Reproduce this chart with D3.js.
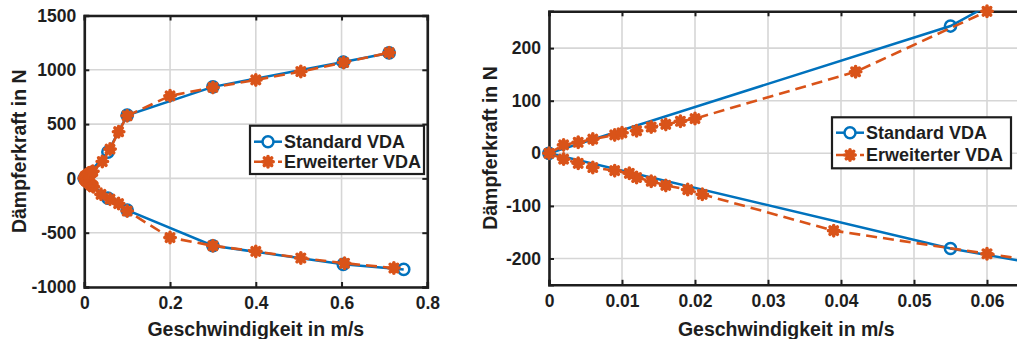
<!DOCTYPE html>
<html>
<head>
<meta charset="utf-8">
<script src="https://cdn.jsdelivr.net/npm/d3@7"></script>
<style>
  html, body { margin: 0; padding: 0; background: #fff; }
  svg { display: block; font-family: "Liberation Sans", Arial, sans-serif; font-weight: bold; }
</style>
</head>
<body>
<svg id="fig" width="1017" height="339"></svg>
<script>
// Standard VDA characteristic (speed in m/s, force in N)
const stdSpeedUp   = [0, 0.055, 0.1, 0.3, 0.604, 0.711];
const stdForceUp   = [0, 242, 582, 843, 1072, 1155];
const stdSpeedDown = [0, 0.055, 0.1, 0.3, 0.604, 0.745];
const stdForceDown = [0, -181, -292, -620, -791, -838];

// Extended VDA characteristic
const extSpeedUp   = [0, 0.002, 0.004, 0.006, 0.009, 0.01, 0.012, 0.014, 0.016, 0.018, 0.02, 0.042, 0.06, 0.08, 0.1, 0.2, 0.3, 0.4, 0.505, 0.605, 0.711];
const extForceUp   = [0, 16, 21, 27, 35, 39, 43, 50, 55, 61, 66, 155, 270, 430, 577, 760, 838, 907, 984, 1067, 1158];
const extSpeedDown = [0, 0.002, 0.004, 0.006, 0.009, 0.011, 0.012, 0.014, 0.016, 0.019, 0.021, 0.039, 0.06, 0.08, 0.1, 0.2, 0.3, 0.4, 0.505, 0.607, 0.722];
const extForceDown = [0, -11, -19, -27, -33, -38, -46, -53, -61, -69, -78, -147, -191, -232, -300, -545, -620, -672, -733, -781, -825];

const seriesNames = ["Standard VDA", "Erweiterter VDA"];
const xTitle = "Geschwindigkeit in m/s";
const yTitle = "Dämpferkraft in N";

const leftXTicks  = [0, 0.2, 0.4, 0.6, 0.8];
const leftYTicks  = [-1000, -500, 0, 500, 1000, 1500];
const rightXTicks = [0, 0.01, 0.02, 0.03, 0.04, 0.05, 0.06];
const rightYTicks = [-200, -100, 0, 100, 200];

const BLUE = "#0072BD", ORANGE = "#D95319", INK = "#1e1e1e";

function branchPoints(sDown, fDown, sUp, fUp) {
  const down = sDown.map((s, i) => [s, fDown[i]]).reverse();
  const up = sUp.map((s, i) => [s, fUp[i]]).slice(1);
  return down.concat(up);
}
const stdPts = branchPoints(stdSpeedDown, stdForceDown, stdSpeedUp, stdForceUp);
const extPts = branchPoints(extSpeedDown, extForceDown, extSpeedUp, extForceUp);

const svg = d3.select("#fig");

function starPath(r) {
  const d = r * Math.SQRT1_2;
  return `M${-r},0L${r},0M0,${-r}L0,${r}M${-d},${-d}L${d},${d}M${-d},${d}L${d},${-d}`;
}

function drawPanel(cfg, id) {
  const x = d3.scaleLinear().domain(cfg.xd).range(cfg.xr);
  const y = d3.scaleLinear().domain(cfg.yd).range(cfg.yr);
  const [x0, x1] = cfg.xr, [y0, y1] = cfg.yr; // y0 bottom, y1 top
  const g = svg.append("g");
  const fmt = v => String(v);

  // grid
  g.append("g").selectAll("line").data(cfg.xt).join("line")
    .attr("x1", d => x(d)).attr("x2", d => x(d)).attr("y1", y0).attr("y2", y1)
    .attr("stroke", "#d6d6d6").attr("stroke-width", 1.6);
  g.append("g").selectAll("line").data(cfg.yt).join("line")
    .attr("y1", d => y(d)).attr("y2", d => y(d)).attr("x1", x0).attr("x2", x1)
    .attr("stroke", "#d6d6d6").attr("stroke-width", 1.6);

  // axes with inward ticks on all sides
  const tl = 5;
  const bottom = d3.axisBottom(x).tickValues(cfg.xt).tickSize(-tl).tickPadding(10).tickFormat(fmt);
  const top = d3.axisTop(x).tickValues(cfg.xt).tickSize(-tl).tickFormat("");
  const left = d3.axisLeft(y).tickValues(cfg.yt).tickSize(-tl).tickPadding(8).tickFormat(fmt);
  const right = d3.axisRight(y).tickValues(cfg.yt).tickSize(-tl).tickFormat("");
  const axes = [
    g.append("g").attr("transform", `translate(0,${y0})`).call(bottom),
    g.append("g").attr("transform", `translate(0,${y1})`).call(top),
    g.append("g").attr("transform", `translate(${x0},0)`).call(left),
    g.append("g").attr("transform", `translate(${x1},0)`).call(right)
  ];
  axes.forEach(a => {
    a.select(".domain").attr("stroke", INK).attr("stroke-width", 2.6);
    a.selectAll(".tick line").attr("stroke", INK).attr("stroke-width", 2);
    a.selectAll("text").attr("fill", INK).attr("font-size", 17.5)
      .attr("font-family", '"Liberation Sans", Arial, sans-serif').attr("font-weight", "bold");
  });

  // axis titles
  g.append("text").attr("x", (x0 + x1) / 2).attr("y", 336)
    .attr("text-anchor", "middle").attr("font-size", 19.5).attr("fill", INK).text(xTitle);
  g.append("text").attr("transform", `translate(${cfg.yTitleX},${(y0 + y1) / 2}) rotate(-90)`)
    .attr("text-anchor", "middle").attr("font-size", 19.5).attr("fill", INK).text(yTitle);

  // clipped data lines
  svg.append("clipPath").attr("id", id).append("rect")
    .attr("x", x0).attr("y", y1).attr("width", x1 - x0).attr("height", y0 - y1);
  const line = d3.line().x(d => x(d[0])).y(d => y(d[1]));
  const inside = d => d[0] >= cfg.xd[0] && d[0] <= cfg.xd[1] && d[1] >= cfg.yd[0] - 1 && d[1] <= cfg.yd[1] + 1;

  const data = g.append("g");
  data.append("path").attr("d", line(stdPts)).attr("clip-path", `url(#${id})`)
    .attr("fill", "none").attr("stroke", BLUE).attr("stroke-width", 2.5);
  data.append("g").selectAll("circle").data(stdPts.filter(inside)).join("circle")
    .attr("cx", d => x(d[0])).attr("cy", d => y(d[1])).attr("r", 5.6)
    .attr("fill", "none").attr("stroke", BLUE).attr("stroke-width", 2.5);
  data.append("path").attr("d", line(extPts)).attr("clip-path", `url(#${id})`)
    .attr("fill", "none").attr("stroke", ORANGE).attr("stroke-width", 2.6)
    .attr("stroke-dasharray", "11,6");
  data.append("g").selectAll("path").data(extPts.filter(inside)).join("path")
    .attr("transform", d => `translate(${x(d[0])},${y(d[1])})`)
    .attr("d", starPath(5.2)).attr("fill", "none").attr("stroke", ORANGE)
    .attr("stroke-width", 3.6).attr("stroke-linecap", "round");

  // legend
  const L = cfg.legend;
  const lg = g.append("g");
  lg.append("rect").attr("x", L.x).attr("y", L.y).attr("width", L.w).attr("height", L.h)
    .attr("fill", "#fff").attr("stroke", INK).attr("stroke-width", 2.2);
  const rows = [
    { name: seriesNames[0], color: BLUE, dash: null, marker: "circle" },
    { name: seriesNames[1], color: ORANGE, dash: "8,4", marker: "star" }
  ];
  rows.forEach((r, i) => {
    const cy = L.y + L.rowY[i];
    const lx0 = L.x + 4, lx1 = L.x + 32, mx = L.x + 18;
    lg.append("line").attr("x1", lx0).attr("x2", lx1).attr("y1", cy).attr("y2", cy)
      .attr("stroke", r.color).attr("stroke-width", 2.5).attr("stroke-dasharray", r.dash);
    if (r.marker === "circle") {
      lg.append("circle").attr("cx", mx).attr("cy", cy).attr("r", 5.5)
        .attr("fill", "#fff").attr("stroke", r.color).attr("stroke-width", 2.5);
    } else {
      lg.append("path").attr("transform", `translate(${mx},${cy})`).attr("d", starPath(5.2))
        .attr("fill", "none").attr("stroke", r.color).attr("stroke-width", 3.6).attr("stroke-linecap", "round");
    }
    lg.append("text").attr("x", L.x + 34).attr("y", cy).attr("dy", "0.36em")
      .attr("font-size", 18).attr("fill", INK).text(r.name);
  });
}

drawPanel({
  xd: [0, 0.8], xr: [84.3, 427.3],
  yd: [-1000, 1500], yr: [287, 15.5],
  xt: leftXTicks, yt: leftYTicks,
  yTitleX: 26,
  legend: { x: 250, y: 125.7, w: 174, h: 48.3, rowY: [16, 36] }
}, "clipL");

drawPanel({
  xd: [0, 0.065], xr: [549, 1023.5],
  yd: [-250, 270], yr: [284.8, 11.3],
  xt: rightXTicks, yt: rightYTicks,
  yTitleX: 497,
  legend: { x: 832, y: 117.3, w: 179, h: 51, rowY: [15.4, 37.7] }
}, "clipR");
</script>
</body>
</html>
